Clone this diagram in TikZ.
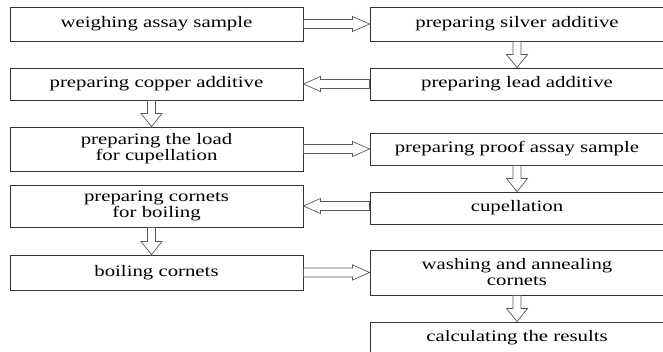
\documentclass[tikz,border=0pt]{standalone}
\usepackage{fontspec}
\setmainfont{Liberation Serif}[FakeStretch=1.3]
\usepackage{tikz}
\usetikzlibrary{calc,positioning}

\begin{document}
\begin{tikzpicture}[x=1pt,y=-1pt,
  every node/.style={font=\fontsize{16}{16}\selectfont},
  stage/.style={draw=black!80, line width=0.9pt, inner sep=0pt, align=center},
  lbox/.style={stage, minimum width=293pt},
  rbox/.style={stage, minimum width=294pt},
  fat/.style n args={3}{to path={
      ($(\tikztostart)!#1!90:(\tikztotarget)$)
      -- ($($(\tikztotarget)!#3!(\tikztostart)$)!#1!90:(\tikztotarget)$)
      -- ($($(\tikztotarget)!#3!(\tikztostart)$)!#2!90:(\tikztotarget)$)
      -- (\tikztotarget)
      -- ($($(\tikztotarget)!#3!(\tikztostart)$)!#2!-90:(\tikztotarget)$)
      -- ($($(\tikztotarget)!#3!(\tikztostart)$)!#1!-90:(\tikztotarget)$)
      -- ($(\tikztostart)!#1!-90:(\tikztotarget)$) -- cycle}},
  harrow/.style={draw=black!65, line width=0.7pt, fat={4.5pt}{7.5pt}{17pt}},
  varrow/.style={draw=black!65, line width=0.7pt, fat={4pt}{10.5pt}{13pt}}]
\clip (0,0) rectangle (663,351);
\fill[white] (0,0) rectangle (663,351);
% left column
\node[lbox, minimum height=34pt] (weigh) at (156.5,24) {weighing assay sample};
\node[lbox, minimum height=32pt] (copper) at (156.5,84) {preparing copper additive};
\node[lbox, minimum height=44pt] (load) at (156.5,149) {preparing the load\\for cupellation};
\node[lbox, minimum height=42pt] (cornets) at (156.5,206) {preparing cornets\\for boiling};
\node[lbox, minimum height=35pt] (boil) at (156.5,272.5) {boiling cornets};
% right column
\node[rbox, minimum height=34pt] (silver) at (517,24) {preparing silver additive};
\node[rbox, minimum height=32pt] (lead) at (517,84) {preparing lead additive};
\node[rbox, minimum height=32pt] (proof) at (517,149) {preparing proof assay sample};
\node[rbox, minimum height=32pt] (cupel) at (517,208) {cupellation};
\node[rbox, minimum height=45pt] (wash) at (517,272.5) {washing and annealing\\cornets};
\node[rbox, minimum height=31pt] (calc) at (517,337.5) {calculating the results};
% arrows
\draw[harrow] (weigh.east) to (silver.west);
\draw[varrow] (silver.south) to (lead.north);
\draw[harrow] (lead.west) to (copper.east);
\draw[varrow] ([xshift=-5pt]copper.south) to ([xshift=-5pt]load.north);
\draw[harrow] (load.east) to (proof.west);
\draw[varrow] (proof.south) to (cupel.north);
\draw[harrow] (cupel.west |- cornets.east) to (cornets.east);
\draw[varrow] ([xshift=-5pt]cornets.south) to ([xshift=-5pt]boil.north);
\draw[harrow] (boil.east) to (wash.west);
\draw[varrow] (wash.south) to (calc.north);
\end{tikzpicture}
\end{document}
